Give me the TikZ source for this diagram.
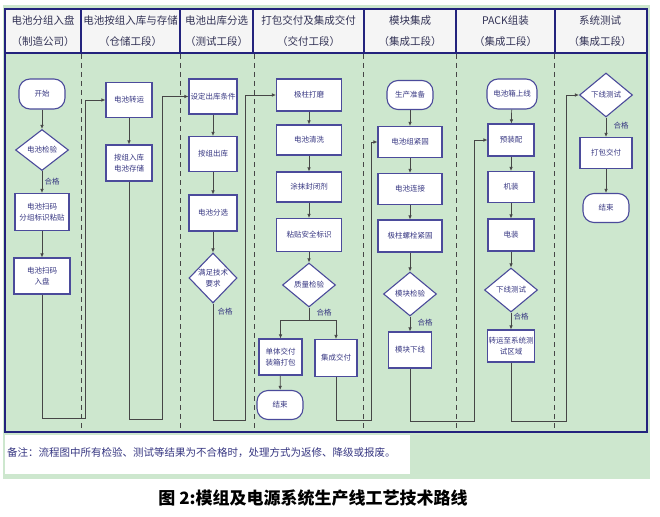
\documentclass[tikz,border=0pt]{standalone}
\usepackage{fontspec}
\setmainfont{Noto Sans CJK SC}
\usetikzlibrary{shapes.geometric,arrows.meta}
\definecolor{bggreen}{RGB}{205,231,206}
\definecolor{frameblue}{RGB}{35,35,125}
\definecolor{boxblue}{RGB}{75,75,155}
\definecolor{txtblue}{RGB}{55,55,130}
\definecolor{headtxt}{RGB}{50,50,85}
\definecolor{linegray}{RGB}{70,70,70}
\begin{document}
\begin{tikzpicture}[x=1pt, y=-1pt,
    proc/.style={rectangle, draw=boxblue, line width=1.1pt, fill=white, text=txtblue,
      font=\fontsize{7.5}{11}\selectfont, align=center, inner sep=1pt},
    term/.style={proc, rounded corners=11pt},
    decide/.style={proc, diamond, inner sep=0pt},
    pass/.style={text=txtblue, font=\fontsize{7.5}{9}\selectfont, inner sep=0pt},
    head/.style={text=headtxt, font=\fontsize{10.5}{21}\selectfont, align=center},
    flow/.style={-{Latex[length=4pt,width=3.5pt]}, draw=linegray, line width=0.7pt},
    plain/.style={draw=linegray, line width=0.7pt},
    lane/.style={draw=linegray, line width=0.7pt, dash pattern=on 5pt off 4pt}
  ]
  \useasboundingbox (0,0) rectangle (660,516);
  \fill[bggreen] (3,5) rectangle (650,479);
  \draw[frameblue, line width=1.2pt, fill=white!92!gray] (5,9) rectangle (647,53);
  \draw[frameblue, line width=1.2pt] (5,53) rectangle (647,432);
  \foreach \hx in {81,180,253,364,456,555}
    \draw[frameblue, line width=1.2pt] (\hx,9) -- (\hx,53);
  \foreach \lx in {81,180,254,363,456,554}
    \draw[lane] (\lx,54) -- (\lx,432);

  \node[head] (h1) at (43,31) {电池分组入盘\\（制造公司）};
  \node[head] (h2) at (130.5,31) {电池按组入库与存储\\（仓储工段）};
  \node[head] (h3) at (216.5,31) {电池出库分选\\（测试工段）};
  \node[head] (h4) at (308.5,31) {打包交付及集成交付\\（交付工段）};
  \node[head] (h5) at (410,31) {模块集成\\（集成工段）};
  \node[head] (h6) at (505.5,31) {PACK组装\\（集成工段）};
  \node[head] (h7) at (600,31) {系统测试\\（集成工段）};

  \node[term, minimum width=46, minimum height=30] (start1) at (42,94) {开始};
  \node[decide, minimum width=53, minimum height=41] (check1) at (42,150) {电池检验};
  \node[pass] (ok1) at (52,182) {合格};
  \node[proc, minimum width=54, minimum height=37] (scan1) at (42,212) {电池扫码\\分组标识粘贴};
  \node[proc, minimum width=56, minimum height=36] (scan2) at (42,276) {电池扫码\\入盘};

  \node[proc, minimum width=46, minimum height=35] (move) at (129,100) {电池转运};
  \node[proc, minimum width=46, minimum height=36] (store) at (129,163) {按组入库\\电池存储};

  \node[proc, minimum width=48, minimum height=35] (setcond) at (213,96.5) {设定出库条件};
  \node[proc, minimum width=48, minimum height=35] (outstore) at (213,154) {按组出库};
  \node[proc, minimum width=48, minimum height=36] (sort) at (213,213) {电池分选};
  \node[decide, minimum width=48, minimum height=50] (spec) at (213,278) {满足技术\\要求};
  \node[pass] (ok2) at (225,312) {合格};

  \node[proc, minimum width=65, minimum height=32] (grind) at (309,95) {极柱打磨};
  \node[proc, minimum width=65, minimum height=30] (clean) at (309,140) {电池清洗};
  \node[proc, minimum width=65, minimum height=30] (seal) at (309,187) {涂抹封闭剂};
  \node[proc, minimum width=65, minimum height=33] (safety) at (309,235) {粘贴安全标识};
  \node[decide, minimum width=53, minimum height=44] (qc) at (309,285) {质量检验};
  \node[pass] (ok3) at (324,313) {合格};
  \node[proc, minimum width=43, minimum height=36] (single) at (280.5,357) {单体交付\\装箱打包};
  \node[proc, minimum width=42, minimum height=37] (integ) at (336,358) {集成交付};
  \node[term, minimum width=46, minimum height=29] (end1) at (280,405) {结束};

  \node[term, minimum width=46, minimum height=29] (prep) at (410,95) {生产准备};
  \node[proc, minimum width=64, minimum height=31] (fasten) at (410,142) {电池组紧固};
  \node[proc, minimum width=64, minimum height=31] (connect) at (410,189) {电池连接};
  \node[proc, minimum width=64, minimum height=32] (bolt) at (410,236) {极柱螺栓紧固};
  \node[decide, minimum width=53, minimum height=44] (mcheck) at (410,294) {模块检验};
  \node[pass] (ok4) at (425,323) {合格};
  \node[proc, minimum width=43, minimum height=36] (moff) at (410,350) {模块下线};

  \node[term, minimum width=50, minimum height=30] (boxon) at (512,94) {电池箱上线};
  \node[proc, minimum width=46, minimum height=32] (preasm) at (511,140) {预装配};
  \node[proc, minimum width=46, minimum height=31] (mech) at (511,187) {机装};
  \node[proc, minimum width=46, minimum height=32] (elec) at (511,235) {电装};
  \node[decide, minimum width=53, minimum height=44] (ptest) at (511,290) {下线测试};
  \node[pass] (ok5) at (521,317) {合格};
  \node[proc, minimum width=46, minimum height=32] (transfer) at (511,346) {转运至系统测\\试区域};

  \node[decide, minimum width=53, minimum height=44] (systest) at (606,95) {下线测试};
  \node[pass] (ok6) at (621,126) {合格};
  \node[proc, minimum width=52, minimum height=31] (pack) at (606,153) {打包交付};
  \node[term, minimum width=46, minimum height=29] (end2) at (606,208) {结束};

  \draw[flow] (start1) -- (check1);
  \draw[flow] (check1) -- (scan1);
  \draw[flow] (scan1) -- (scan2);
  \draw[flow] (scan2) |- (85,418) |- (move);
  \draw[flow] (move) -- (store);
  \draw[flow] (store) |- (162,419) |- (setcond);
  \draw[flow] (setcond) -- (outstore);
  \draw[flow] (outstore) -- (sort);
  \draw[flow] (sort) -- (spec);
  \draw[flow] (spec) |- (245,420) |- (grind);
  \draw[flow] (grind) -- (clean);
  \draw[flow] (clean) -- (seal);
  \draw[flow] (seal) -- (safety);
  \draw[flow] (safety) -- (qc);
  \coordinate (split) at (309,320);
  \draw[plain] (qc) -- (split);
  \draw[flow] (split) -| (single);
  \draw[flow] (split) -| (integ);
  \draw[flow] (single) -- (end1);
  \draw[flow] (integ) |- (371,420) |- (fasten);
  \draw[flow] (prep) -- (fasten);
  \draw[flow] (fasten) -- (connect);
  \draw[flow] (connect) -- (bolt);
  \draw[flow] (bolt) -- (mcheck);
  \draw[flow] (mcheck) -- (moff);
  \draw[flow] (moff) |- (474,421) |- (preasm);
  \draw[flow] (boxon) -- (preasm);
  \draw[flow] (preasm) -- (mech);
  \draw[flow] (mech) -- (elec);
  \draw[flow] (elec) -- (ptest);
  \draw[flow] (ptest) -- (transfer);
  \draw[flow] (transfer) |- (566,421) |- (systest);
  \draw[flow] (systest) -- (pack);
  \draw[flow] (pack) -- (end2);

  \fill[white] (5,435) rectangle (410,474);
  \node[text=txtblue, font=\fontsize{10.5}{12}\selectfont, anchor=west, inner sep=0pt] (note) at (7,453)
    {备注：流程图中所有检验、测试等结果为不合格时，处理方式为返修、降级或报废。};
  \node[font=\fontsize{17}{20}\selectfont\bfseries] (cap) at (313,498) {图 2:模组及电源系统生产线工艺技术路线};
\end{tikzpicture}
\end{document}
